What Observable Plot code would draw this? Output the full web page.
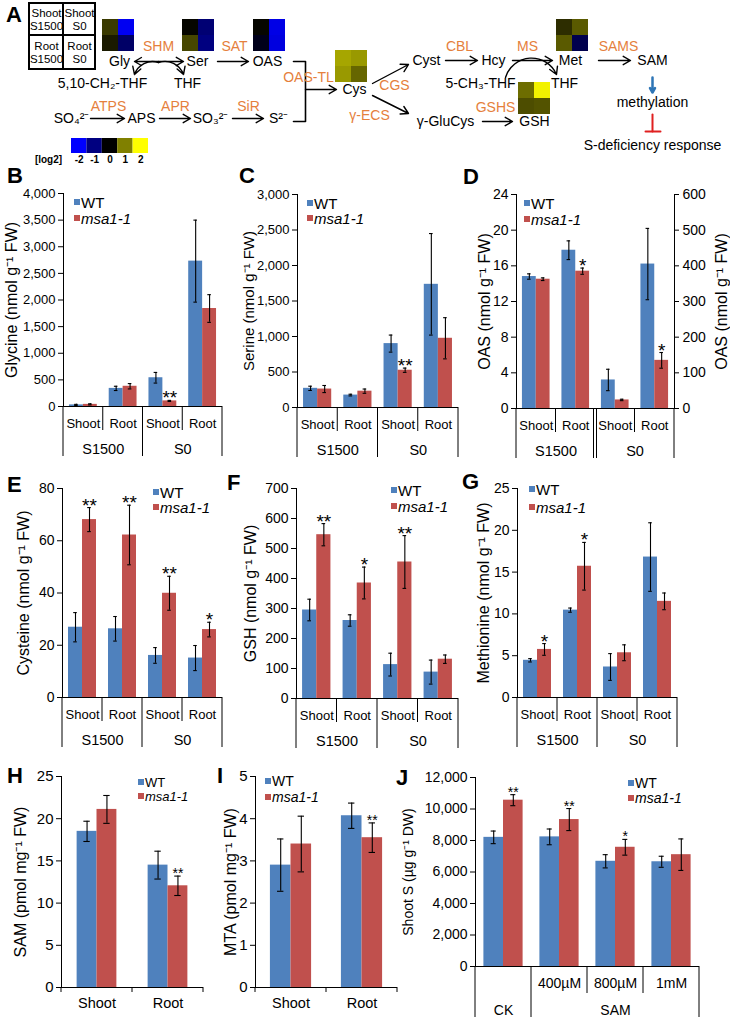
<!DOCTYPE html>
<html><head><meta charset="utf-8">
<script src="https://cdn.jsdelivr.net/npm/d3@7"></script>
<script src="https://cdn.jsdelivr.net/npm/@observablehq/plot@0.6"></script>
<style>
body{margin:0;background:#fff;}
#page{position:relative;width:730px;height:1019px;overflow:hidden;font-family:"Liberation Sans",Arial,Helvetica,sans-serif;color:#000;}
.box{position:absolute;}
.box svg{display:block;}
.letter{position:absolute;font-weight:bold;font-size:22px;line-height:22px;}
.leg{position:absolute;display:flex;align-items:center;white-space:nowrap;line-height:1;}
.leg .sw{display:inline-block;width:6px;height:6px;margin-right:1px;}
</style></head><body><div id="page"></div>
<script>
const FONT = '"Liberation Sans", Arial, Helvetica, sans-serif';
const BLUE = "#4F81BD", RED = "#C0504D", ORANGE = "#E5803C";

// ---------- categories ----------
const tissues = ["Shoot", "Root", "Shoot", "Root"];
const sulfur = ["S1500", "S0"];
const sulfurSpan = [2, 2];
const organs = ["Shoot", "Root"];
const samCats = ["", "400µM", "800µM", "1mM"];
const samGroups = ["CK", "SAM"];
const samSpan = [1, 3];

// ---------- B glycine ----------
const glyWT = [30, 340, 540, 2730];
const glyWTerr = [10, 40, 100, 770];
const glyMsa = [40, 380, 105, 1840];
const glyMsaErr = [10, 50, 10, 260];
const glyStars = ["", "", "**", ""];
// ---------- C serine ----------
const serWT = [270, 175, 900, 1735];
const serWTerr = [30, 12, 120, 715];
const serMsa = [260, 230, 525, 975];
const serMsaErr = [50, 30, 30, 290];
const serStars = ["", "", "**", ""];
// ---------- D OAS (S1500 on left axis, S0 on right axis) ----------
const oasS1500WT = [14.8, 17.75];
const oasS1500WTerr = [0.3, 1.05];
const oasS1500Msa = [14.5, 15.4];
const oasS1500MsaErr = [0.15, 0.35];
const oasS1500Stars = ["", "*"];
const oasS0WT = [80, 405];
const oasS0WTerr = [30, 100];
const oasS0Msa = [24, 135];
const oasS0MsaErr = [2, 22];
const oasS0Stars = ["", "*"];
// ---------- E cysteine ----------
const cysWT = [26.9, 26.3, 16.1, 15.1];
const cysWTerr = [5.6, 4.7, 3.0, 4.8];
const cysMsa = [68.1, 62.2, 39.9, 26.0];
const cysMsaErr = [4.6, 11.4, 6.5, 2.8];
const cysStars = ["**", "**", "**", "*"];
// ---------- F GSH ----------
const gshWT = [295, 260, 113, 88];
const gshWTerr = [36, 19, 38, 40];
const gshMsa = [546, 385, 455, 131];
const gshMsaErr = [37, 53, 88, 14];
const gshStars = ["**", "*", "**", ""];
// ---------- G methionine ----------
const metWT = [4.45, 10.45, 3.65, 16.8];
const metWTerr = [0.2, 0.25, 1.6, 4.1];
const metMsa = [5.75, 15.7, 5.35, 11.5];
const metMsaErr = [0.7, 2.85, 0.95, 1.0];
const metStars = ["*", "*", "", ""];
// ---------- H SAM ----------
const samWT = [18.5, 14.5];
const samWTerr = [1.2, 1.65];
const samMsa = [21.1, 12.05];
const samMsaErr = [1.65, 1.15];
const samStars = ["", "**"];
// ---------- I MTA ----------
const mtaWT = [2.9, 4.07];
const mtaWTerr = [0.62, 0.3];
const mtaMsa = [3.4, 3.55];
const mtaMsaErr = [0.66, 0.35];
const mtaStars = ["", "**"];
// ---------- J shoot S ----------
const shootSWT = [8200, 8230, 6680, 6650];
const shootSWTerr = [400, 500, 420, 350];
const shootSMsa = [10560, 9330, 7570, 7100];
const shootSMsaErr = [350, 700, 500, 1000];
const shootSStars = ["**", "**", "*", ""];

// ---------- A heat map values (log2 ratio): [Shoot S1500, Shoot S0, Root S1500, Root S0] ----------
const heatGly = [0.45, -1.9, 0.2, -0.8];
const heatSer = [0.05, -0.9, 0.55, -1.0];
const heatOAS = [0.05, -1.8, -0.2, -1.75];
const heatCys = [1.3, 1.2, 1.2, 0.8];
const heatMet = [0.35, 0.7, 0.7, -0.6];
const heatGSH = [0.85, 1.9, 0.6, 0.65];
const scaleSteps = [-2, -1, 0, 1, 2];
const scaleColors = ["#0000ff", "#000080", "#000000", "#808000", "#ffff00"];

const page = document.getElementById("page");
function place(el, left, top) {
  const d = document.createElement("div");
  d.className = "box"; d.style.left = left + "px"; d.style.top = top + "px";
  d.appendChild(el); page.appendChild(d); return d;
}
function letter(t, x, capTop) {
  const d = document.createElement("div");
  d.className = "letter"; d.textContent = t;
  d.style.left = x + "px"; d.style.top = (capTop - 3) + "px";
  page.appendChild(d);
}
function legend(x, y1, y2, fs) {
  [[y1, BLUE, "WT", false], [y2, RED, "msa1-1", true]].forEach(([y, c, t, it]) => {
    const d = document.createElement("div");
    d.className = "leg";
    d.style.left = x + "px"; d.style.top = (y - fs / 2) + "px";
    d.style.fontSize = fs + "px"; d.style.height = fs + "px";
    d.innerHTML = `<span class="sw" style="background:${c}"></span><span style="font-style:${it ? "italic" : "normal"}">${t}</span>`;
    page.appendChild(d);
  });
}

// ---------- generic bar panel ----------
function barPanel(p) {
  const mL = p.mL ?? 62, mR = p.mR ?? 14, mT = 14, mB = p.mB ?? 58;
  const W = p.R - p.L + mL + mR, H = p.B - p.T + mT + mB;
  const n = p.n;
  const a = p.pad ?? 0.15, capW = p.cap ?? 0.09;
  const perPx = n / (p.R - p.L);          // x-units per pixel (for 5px tick marks)
  const rows = p.wt.map((v, k) => ({i: p.idx ? p.idx[k] : k, wt: v, wtE: p.wtErr[k], msa: p.msa[k], msaE: p.msaErr[k], star: p.stars[k]}));
  const cW = d => d.i + (a + 0.5) / 2, cM = d => d.i + (1.5 - a) / 2;
  const marks = [
    Plot.rect(rows, {x1: d => d.i + a, x2: d => d.i + 0.5, y1: () => 0, y2: "wt", fill: BLUE}),
    Plot.rect(rows, {x1: d => d.i + 0.5, x2: d => d.i + 1 - a, y1: () => 0, y2: "msa", fill: RED})
  ];
  for (const [c, v, e] of [[cW, "wt", "wtE"], [cM, "msa", "msaE"]]) {
    marks.push(Plot.ruleX(rows, {x: c, y1: d => d[v] - d[e], y2: d => d[v] + d[e], stroke: "#000", strokeWidth: 1.1}));
    marks.push(Plot.ruleY(rows, {y: d => d[v] + d[e], x1: d => c(d) - capW / 2, x2: d => c(d) + capW / 2, stroke: "#000", strokeWidth: 1.1}));
    marks.push(Plot.ruleY(rows, {y: d => d[v] - d[e], x1: d => c(d) - capW / 2, x2: d => c(d) + capW / 2, stroke: "#000", strokeWidth: 1.1}));
  }
  marks.push(Plot.text(rows, {x: cM, y: d => d.msa + d.msaE, text: "star", lineAnchor: "bottom", dy: p.starDy ?? 4, fontSize: p.starSize ?? 19}));
  // value axis drawn with marks
  const ticks = d3.range(0, p.yMax + p.step / 2, p.step);
  const fmt = p.fmt ?? (d => String(d));
  const right = p.axisSide === "right";
  const ax = right ? n : 0, sgn = right ? 1 : -1;
  marks.push(Plot.ruleX([ax], {stroke: "#000"}));
  marks.push(Plot.ruleY(ticks, {y: d => d, x1: () => ax, x2: () => ax + sgn * 5 * perPx, stroke: "#000"}));
  marks.push(Plot.text(ticks, {x: () => ax, y: d => d, text: fmt, textAnchor: right ? "start" : "end", dx: sgn * 8, fontSize: p.tickSize ?? 14}));
  marks.push(Plot.text([p.label], {frameAnchor: right ? "right" : "left", rotate: -90, textAnchor: "middle", lineAnchor: "middle",
    dx: sgn * p.lo, text: d => d, fontSize: p.labelSize ?? 16}));
  if (p.baseline !== false) marks.push(Plot.ruleY([0], {stroke: "#000"}));
  if (p.cats) marks.push(Plot.text(p.cats, {x: (d, k) => k + 0.5, y: () => 0, text: d => d, dy: p.catDy ?? 17, fontSize: p.catSize ?? 13}));
  let starts = [];
  if (p.groups) {
    let s = 0; starts = p.spans.map(w => { const r = s; s += w; return r; }); starts.push(s);
    marks.push(Plot.text(p.groups, {x: (d, k) => starts[k] + p.spans[k] / 2, y: () => 0, text: d => d, dy: p.groupDy ?? 43, fontSize: p.groupSize ?? 14.5}));
  }
  const chart = Plot.plot({
    width: W, height: H, marginLeft: mL, marginRight: mR, marginTop: mT, marginBottom: mB,
    style: {fontFamily: FONT, fontSize: "13px", color: "#000", background: "transparent", overflow: "visible", maxWidth: "none"},
    x: {domain: [0, n], axis: null},
    y: {domain: [0, p.yMax], axis: null},
    marks
  });
  if (p.dividers !== false) {
    const xs = chart.scale("x"), ys = chart.scale("y");
    const y0 = ys.apply(0);
    const g = d3.select(chart).append("g").attr("stroke", "#000").attr("stroke-width", 1);
    for (let b = 0; b <= n; b++) {
      const full = p.groups ? starts.includes(b) : false;
      const len = p.groups ? (full ? (p.fullLen ?? 50) : (p.shortLen ?? 24)) : 5;
      const offs = (p.doubleAt === b) ? [-1.5, 1.5] : [0];
      for (const o of offs) g.append("line").attr("x1", xs.apply(b) + o).attr("x2", xs.apply(b) + o).attr("y1", y0).attr("y2", y0 + len);
    }
  }
  place(chart, p.L - mL, p.T - mT);
  return chart;
}

const comma = d3.format(",");
const fourCats = {n: 4, cats: tissues, groups: sulfur, spans: sulfurSpan, axisSide: "left"};

// B
barPanel({...fourCats, L: 63, R: 222, T: 193, B: 406, yMax: 4000, step: 500, fmt: comma, label: "Glycine (nmol g⁻¹ FW)", lo: 52, tickSize: 13,
  wt: glyWT, wtErr: glyWTerr, msa: glyMsa, msaErr: glyMsaErr, stars: glyStars});
// C
barPanel({...fourCats, L: 297, R: 458, T: 194, B: 407, yMax: 3000, step: 500, fmt: comma, label: "Serine (nmol g⁻¹ FW)", lo: 48, tickSize: 13, labelSize: 15,
  wt: serWT, wtErr: serWTerr, msa: serMsa, msaErr: serMsaErr, stars: serStars});
// D (two scales)
barPanel({...fourCats, L: 516, R: 674, T: 194, B: 408, mR: 56, yMax: 24, step: 4, label: "OAS (nmol g⁻¹ FW)", lo: 32, doubleAt: 2,
  idx: [0, 1], wt: oasS1500WT, wtErr: oasS1500WTerr, msa: oasS1500Msa, msaErr: oasS1500MsaErr, stars: oasS1500Stars});
barPanel({n: 4, axisSide: "right", baseline: false, dividers: false, L: 516, R: 674, T: 194, B: 408, mR: 56, yMax: 600, step: 100, label: "OAS (nmol g⁻¹ FW)", lo: 47,
  idx: [2, 3], wt: oasS0WT, wtErr: oasS0WTerr, msa: oasS0Msa, msaErr: oasS0MsaErr, stars: oasS0Stars});
// E
barPanel({...fourCats, L: 62, R: 222, T: 488, B: 697, yMax: 80, step: 20, label: "Cysteine (nmol g⁻¹ FW)", lo: 39,
  wt: cysWT, wtErr: cysWTerr, msa: cysMsa, msaErr: cysMsaErr, stars: cysStars});
// F
barPanel({...fourCats, L: 296, R: 458, T: 488, B: 698, yMax: 700, step: 100, label: "GSH (nmol g⁻¹ FW)", lo: 46,
  wt: gshWT, wtErr: gshWTerr, msa: gshMsa, msaErr: gshMsaErr, stars: gshStars});
// G
barPanel({...fourCats, L: 517, R: 677, T: 488, B: 697, yMax: 25, step: 5, label: "Methionine (nmol g⁻¹ FW)", lo: 34,
  wt: metWT, wtErr: metWTerr, msa: metMsa, msaErr: metMsaErr, stars: metStars});
// H
barPanel({n: 2, cats: organs, axisSide: "left", L: 61, R: 203, T: 776, B: 987, mB: 30, pad: 0.22, cap: 0.09, catDy: 16, catSize: 14.5,
  yMax: 25, step: 5, label: "SAM (pmol mg⁻¹ FW)", lo: 41, starSize: 14, starDy: 2, tickSize: 15,
  wt: samWT, wtErr: samWTerr, msa: samMsa, msaErr: samMsaErr, stars: samStars});
// I
barPanel({n: 2, cats: organs, axisSide: "left", L: 255, R: 397, T: 776, B: 987, mB: 30, pad: 0.21, cap: 0.09, catDy: 16, catSize: 14.5,
  yMax: 5, step: 1, label: "MTA (pmol mg⁻¹ FW)", lo: 25, starSize: 14, starDy: 2, tickSize: 15,
  wt: mtaWT, wtErr: mtaWTerr, msa: mtaMsa, msaErr: mtaMsaErr, stars: mtaStars});
// J
barPanel({n: 4, cats: samCats, groups: samGroups, spans: samSpan, axisSide: "left", L: 475, R: 699, T: 777, B: 966, mL: 80, mB: 56,
  catDy: 17, groupDy: 44, fullLen: 51, shortLen: 27, cap: 0.09, catSize: 14, groupSize: 14,
  yMax: 12000, step: 2000, fmt: comma, label: "Shoot S (µg g⁻¹ DW)", lo: 67, labelSize: 14, starSize: 14, starDy: 2,
  wt: shootSWT, wtErr: shootSWTerr, msa: shootSMsa, msaErr: shootSMsaErr, stars: shootSStars});

// ---------- Panel A: pathway diagram ----------
const nodes = [
  {x: 119, y: 61, t: "Gly"}, {x: 197, y: 61, t: "Ser"}, {x: 267, y: 61, t: "OAS"},
  {x: 102, y: 83, t: "5,10-CH₂-THF"}, {x: 187, y: 83, t: "THF"}, {x: 354, y: 89, t: "Cys"},
  {x: 71, y: 118, t: "SO₄²⁻"}, {x: 141, y: 118, t: "APS"}, {x: 210, y: 118, t: "SO₃²⁻"}, {x: 278, y: 118, t: "S²⁻"},
  {x: 426, y: 60, t: "Cyst"}, {x: 493, y: 60, t: "Hcy"}, {x: 570, y: 60, t: "Met"},
  {x: 480, y: 83, t: "5-CH₃-THF"}, {x: 564, y: 83, t: "THF"},
  {x: 652, y: 60, t: "SAM"}, {x: 652, y: 102, t: "methylation"}, {x: 652, y: 145, t: "S-deficiency response"},
  {x: 445, y: 121, t: "γ-GluCys"}, {x: 534, y: 121, t: "GSH"}
];
const enzymes = [
  {x: 158, y: 46, t: "SHM"}, {x: 234, y: 46, t: "SAT"}, {x: 308, y: 77, t: "OAS-TL"},
  {x: 108, y: 106, t: "ATPS"}, {x: 175, y: 106, t: "APR"}, {x: 248, y: 106, t: "SiR"},
  {x: 394, y: 85, t: "CGS"}, {x: 369, y: 115, t: "γ-ECS"}, {x: 459, y: 46, t: "CBL"}, {x: 527, y: 46, t: "MS"},
  {x: 618, y: 46, t: "SAMS"}, {x: 495, y: 107, t: "GSHS"}
];
const straightArrows = [
  {x1: 158, y1: 61, x2: 134, y2: 61}, {x1: 158, y1: 61, x2: 183, y2: 61},
  {x1: 217, y1: 61, x2: 248, y2: 61}, {x1: 305, y1: 89, x2: 336, y2: 89},
  {x1: 90, y1: 118, x2: 124, y2: 118}, {x1: 159, y1: 118, x2: 190, y2: 118},
  {x1: 232, y1: 118, x2: 263, y2: 118},
  {x1: 372, y1: 83, x2: 408, y2: 64}, {x1: 372, y1: 95, x2: 408, y2: 113},
  {x1: 445, y1: 60, x2: 477, y2: 60}, {x1: 512, y1: 60, x2: 552, y2: 60},
  {x1: 598, y1: 60, x2: 630, y2: 60}, {x1: 482, y1: 121, x2: 512, y2: 121}
];
const arcLeft = [{x1: 158, y1: 62, x2: 134, y2: 74}];
const arcRight = [{x1: 158, y1: 62, x2: 183, y2: 74}];
const arcTHF = [{x1: 505, y1: 77, x2: 556, y2: 74}];
const bracket = [{x: 293, y: 61}, {x: 305, y: 61}, {x: 305, y: 121}, {x: 293, y: 121}];
const heatBlocks = [
  {x: 102, y: 19, v: heatGly}, {x: 182, y: 19, v: heatSer}, {x: 253, y: 19, v: heatOAS},
  {x: 335, y: 50, v: heatCys}, {x: 556, y: 19, v: heatMet}, {x: 518, y: 82, v: heatGSH}
];
const cellSize = 16;
const heatCells = heatBlocks.flatMap(b => b.v.map((v, k) => ({
  x1: b.x + (k % 2) * cellSize, x2: b.x + (k % 2 + 1) * cellSize,
  y1: b.y + Math.floor(k / 2) * cellSize, y2: b.y + (Math.floor(k / 2) + 1) * cellSize, v
})));
const barOrigin = {x: 71, y: 138, w: 15.4, h: 15};
const colorBar = scaleSteps.map((v, k) => ({x1: barOrigin.x + k * barOrigin.w, x2: barOrigin.x + (k + 1) * barOrigin.w, y1: barOrigin.y, y2: barOrigin.y + barOrigin.h, v}));
const tableCells = [
  {x1: 29, x2: 63, y1: 3, y2: 35, t: "Shoot\nS1500"}, {x1: 63, x2: 95, y1: 3, y2: 35, t: "Shoot\nS0"},
  {x1: 29, x2: 63, y1: 35, y2: 69, t: "Root\nS1500"}, {x1: 63, x2: 95, y1: 35, y2: 69, t: "Root\nS0"}
];
const arrowStyle = {x1: "x1", y1: "y1", x2: "x2", y2: "y2", stroke: "#000", strokeWidth: 1.4, headLength: 9};

const diagram = Plot.plot({
  width: 730, height: 162, margin: 0,
  style: {fontFamily: FONT, fontSize: "14px", color: "#000", background: "transparent", overflow: "visible", maxWidth: "none"},
  x: {domain: [0, 730], axis: null},
  y: {domain: [0, 162], reverse: true, axis: null},
  color: {type: "linear", domain: scaleSteps, range: scaleColors, interpolate: "rgb"},
  marks: [
    Plot.rect(heatCells, {x1: "x1", x2: "x2", y1: "y1", y2: "y2", fill: "v"}),
    Plot.rect(colorBar, {x1: "x1", x2: "x2", y1: "y1", y2: "y2", fill: "v"}),
    Plot.text(colorBar, {x: d => (d.x1 + d.x2) / 2, y: d => d.y2 + 6, text: d => String(d.v), fontSize: 10, fontWeight: "bold"}),
    Plot.text(["[log2]"], {x: () => 48, y: () => barOrigin.y + barOrigin.h + 6, text: d => d, fontSize: 10, fontWeight: "bold"}),
    Plot.rect(tableCells, {x1: "x1", x2: "x2", y1: "y1", y2: "y2", fill: "none", stroke: "#000", strokeWidth: 2}),
    Plot.text(tableCells, {x: d => (d.x1 + d.x2) / 2, y: d => (d.y1 + d.y2) / 2, text: "t", fontSize: 11.5, lineHeight: 1.1}),
    Plot.arrow(straightArrows, arrowStyle),
    Plot.arrow(arcLeft, {...arrowStyle, bend: -45}),
    Plot.arrow(arcRight, {...arrowStyle, bend: 45}),
    Plot.arrow(arcTHF, {...arrowStyle, bend: 70}),
    Plot.line(bracket, {x: "x", y: "y", stroke: "#000", strokeWidth: 1.6}),
    Plot.arrow([{x1: 652, y1: 77, x2: 652, y2: 92}], {x1: "x1", y1: "y1", x2: "x2", y2: "y2", stroke: "#2E75B6", strokeWidth: 2.5, headLength: 6}),
    Plot.line([{x: 652, y: 114}, {x: 652, y: 131}], {x: "x", y: "y", stroke: "#E02020", strokeWidth: 2}),
    Plot.line([{x: 645, y: 131}, {x: 660, y: 131}], {x: "x", y: "y", stroke: "#E02020", strokeWidth: 2}),
    Plot.text(nodes, {x: "x", y: "y", text: "t", fontSize: 14}),
    Plot.text(enzymes, {x: "x", y: "y", text: "t", fontSize: 14, fill: ORANGE})
  ]
});
place(diagram, 0, 0);

// ---------- legends & panel letters ----------
legend(74, 202, 218, 15); legend(307, 203, 218, 15); legend(524, 203, 219, 15);
legend(153, 492, 507, 15); legend(391, 490, 506, 15); legend(529, 489, 507, 15);
legend(138, 782, 796, 13); legend(265, 781, 797, 14); legend(628, 783, 798, 14);
letter("A", 6, 7); letter("B", 7, 168); letter("C", 239, 168); letter("D", 463, 169);
letter("E", 7, 477); letter("F", 227, 475); letter("G", 462, 474);
letter("H", 7, 768); letter("I", 217, 768); letter("J", 396, 770);
</script></body></html>
